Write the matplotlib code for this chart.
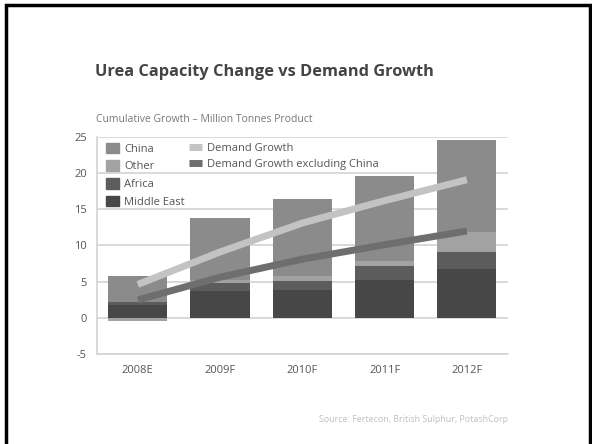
import numpy as np
import matplotlib.pyplot as plt
from matplotlib.patches import Patch, Rectangle
from matplotlib.lines import Line2D

plt.rcParams['font.family'] = ['Open Sans', 'DejaVu Sans']
plt.rcParams['axes.unicode_minus'] = False

# Data (million tonnes, cumulative)
years = ['2008E', '2009F', '2010F', '2011F', '2012F']
middle_east = [1.8, 3.7, 3.85, 5.2, 6.7]
africa = [0.4, 1.15, 1.25, 1.95, 2.35]
other = [-0.5, 0.35, 0.6, 0.7, 2.8]
china = [3.55, 8.65, 10.75, 11.75, 12.75]
demand = [4.6, 9.1, 13.1, 16.2, 19.1]
demand_ex_china = [2.45, 5.6, 8.1, 10.1, 12.0]

c_me = '#474747'
c_af = '#5c5c5c'
c_ot = '#a2a2a2'
c_cn = '#8b8b8b'
c_dem = '#c3c3c3'
c_dex = '#6e6e6e'
txt = '#555555'

fig = plt.figure(figsize=(5.92, 4.44), dpi=100)
ax = fig.add_axes([0.1633, 0.2032, 0.6948, 0.488])

x = np.arange(len(years))
w = 0.72
me = np.array(middle_east)
af = np.array(africa)
ot = np.array(other)
cn = np.array(china)

ax.bar(x, me, w, color=c_me, zorder=2)
ax.bar(x, af, w, bottom=me, color=c_af, zorder=2)
# negative 'other' stacks below zero
ot_bottom = np.where(ot >= 0, me + af, 0)
ax.bar(x, ot, w, bottom=ot_bottom, color=c_ot, zorder=2)
cn_bottom = me + af + np.clip(ot, 0, None)
ax.bar(x, cn, w, bottom=cn_bottom, color=c_cn, zorder=2)

ax.plot(x, demand, color=c_dem, lw=5, solid_capstyle='butt', zorder=3)
ax.plot(x, demand_ex_china, color=c_dex, lw=5, solid_capstyle='butt', zorder=3)

ax.set_xlim(-0.5, len(years) - 0.5)
ax.set_ylim(-5, 25)
ax.set_yticks([-5, 0, 5, 10, 15, 20, 25])
ax.set_xticks(x)
ax.set_xticklabels(years)
ax.tick_params(length=0, labelsize=8, colors=txt)
ax.tick_params(axis='y', pad=7)
ax.tick_params(axis='x', pad=8)
ax.grid(axis='y', color='#d3d3d3', lw=1.2, zorder=0)
for s in ['top', 'right']:
    ax.spines[s].set_visible(False)
for s in ['left', 'bottom']:
    ax.spines[s].set_color('#d3d3d3')
    ax.spines[s].set_linewidth(1.2)

h1 = [Patch(color=c_cn), Patch(color=c_ot), Patch(color=c_af), Patch(color=c_me)]
leg1 = ax.legend(h1, ['China', 'Other', 'Africa', 'Middle East'],
                 loc='upper left', bbox_to_anchor=(0.01, 1.0), frameon=False,
                 fontsize=8, labelcolor=txt, handlelength=1.1, handleheight=1.1,
                 handletextpad=0.5, labelspacing=0.5, borderaxespad=0.1)
ax.add_artist(leg1)
h2 = [Line2D([], [], color=c_dem, lw=5, solid_capstyle='butt'),
      Line2D([], [], color=c_dex, lw=5, solid_capstyle='butt')]
ax.legend(h2, ['Demand Growth', 'Demand Growth excluding China'],
          loc='upper left', bbox_to_anchor=(0.21, 1.0), frameon=False,
          fontsize=8, labelcolor=txt, handlelength=1.2,
          handletextpad=0.5, labelspacing=0.5, borderaxespad=0.1)

fig.text(95 / 592, 1 - 72 / 444, 'Urea Capacity Change vs Demand Growth',
         fontsize=11.8, fontweight='bold', color='#444444', va='center')
fig.text(96.5 / 592, 1 - 120 / 444, 'Cumulative Growth \u2013 Million Tonnes Product',
         fontsize=7.5, color='#777777', va='center')
fig.text(508 / 592, 1 - 419 / 444, 'Source: Fertecon, British Sulphur, PotashCorp',
         fontsize=6.4, color='#c0c0c0', ha='right', va='center')

# frame around the slide
fig.patches.append(Rectangle((6 / 592, -0.05), 584 / 592, 1.05 - 5 / 444,
                             transform=fig.transFigure, fill=False,
                             edgecolor='black', lw=2.5))

fig.savefig('out.png', dpi=100)
